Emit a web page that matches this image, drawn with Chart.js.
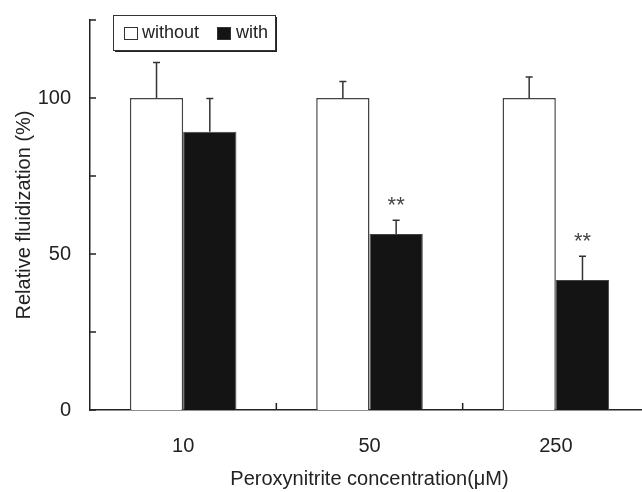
<!DOCTYPE html>
<html>
<head>
<meta charset="utf-8">
<script src="https://cdn.jsdelivr.net/npm/chart.js@4/dist/chart.umd.min.js"></script>
<style>
  html, body { margin: 0; padding: 0; background: #fff; overflow: hidden; }
  #wrap { width: 650px; height: 492px; }
</style>
</head>
<body>
<div id="wrap"><canvas id="fluidChart" width="650" height="492"></canvas></div>
<script>
// values
const categories = ['10', '50', '250'];
const withoutValues = [100, 100, 100];
const withValues = [89.2, 56.4, 41.7];
const withoutErrors = [11.4, 5.3, 6.7];
const withErrors = [10.6, 4.4, 7.6];
const significance = ['', '**', '**'];
const labelledTicks = [0, 50, 100];

const FONT = '"Liberation Sans", Arial, sans-serif';
const INK = '#222';

// error bars above each bar
const errorBars = {
  id: 'errorBars',
  afterDatasetsDraw(chart) {
    const ctx = chart.ctx;
    const y = chart.scales.y;
    const errs = [withoutErrors, withErrors];
    ctx.save();
    ctx.strokeStyle = '#333';
    ctx.lineWidth = 1.5;
    chart.data.datasets.forEach((ds, d) => {
      chart.getDatasetMeta(d).data.forEach((bar, i) => {
        const top = y.getPixelForValue(ds.data[i] + errs[d][i]);
        ctx.beginPath();
        ctx.moveTo(bar.x, bar.y);
        ctx.lineTo(bar.x, top);
        ctx.moveTo(bar.x - 3.5, top);
        ctx.lineTo(bar.x + 3.5, top);
        ctx.stroke();
      });
    });
    // significance marks over the "with" bars
    ctx.fillStyle = '#444';
    ctx.font = '22px ' + FONT;
    ctx.textAlign = 'center';
    ctx.textBaseline = 'middle';
    chart.getDatasetMeta(1).data.forEach((bar, i) => {
      if (!significance[i]) return;
      const top = y.getPixelForValue(withValues[i] + withErrors[i]);
      ctx.fillText(significance[i], bar.x, top - 14);
    });
    ctx.restore();
  }
};

// inward tick marks on both axes
const innerTicks = {
  id: 'innerTicks',
  afterDraw(chart) {
    const ctx = chart.ctx;
    const {left, bottom} = chart.chartArea;
    const x = chart.scales.x, y = chart.scales.y;
    ctx.save();
    ctx.strokeStyle = INK;
    ctx.lineWidth = 1.5;
    ctx.beginPath();
    y.ticks.forEach(t => {
      const py = y.getPixelForValue(t.value);
      ctx.moveTo(left, py);
      ctx.lineTo(left + 6, py);
    });
    for (let i = 0; i < categories.length - 1; i++) {
      const px = (x.getPixelForValue(i) + x.getPixelForValue(i + 1)) / 2;
      ctx.moveTo(px, bottom);
      ctx.lineTo(px, bottom - 7);
    }
    ctx.stroke();
    ctx.restore();
  }
};

// boxed legend with drop shadow
const boxLegend = {
  id: 'boxLegend',
  afterDraw(chart) {
    const ctx = chart.ctx;
    const bx = 113, by = 15, bw = 162, bh = 35;
    ctx.save();
    ctx.fillStyle = '#222';
    ctx.fillRect(bx + 2, by + 2, bw, bh);
    ctx.fillStyle = '#fff';
    ctx.fillRect(bx, by, bw, bh);
    ctx.strokeStyle = '#333';
    ctx.lineWidth = 1;
    ctx.strokeRect(bx + 0.5, by + 0.5, bw, bh);
    ctx.font = '18px ' + FONT;
    ctx.textBaseline = 'middle';
    ctx.textAlign = 'left';
    const items = [[124, 142], [217, 236]];
    chart.data.datasets.forEach((ds, d) => {
      const [sx, tx] = items[d];
      ctx.fillStyle = ds.backgroundColor;
      ctx.fillRect(sx, 27, 13, 13);
      ctx.strokeStyle = '#333';
      ctx.strokeRect(sx + 0.5, 27.5, 13, 12);
      ctx.fillStyle = INK;
      ctx.fillText(ds.label, tx, 33.5);
    });
    ctx.restore();
  }
};

new Chart(document.getElementById('fluidChart'), {
  type: 'bar',
  data: {
    labels: categories,
    datasets: [
      {
        label: 'without',
        data: withoutValues,
        backgroundColor: '#ffffff',
        borderColor: '#444',
        borderWidth: 1.5,
        categoryPercentage: 0.572,
        barPercentage: 1.0
      },
      {
        label: 'with',
        data: withValues,
        backgroundColor: '#141414',
        borderColor: '#444',
        borderWidth: 1,
        categoryPercentage: 0.572,
        barPercentage: 1.0
      }
    ]
  },
  options: {
    responsive: false,
    animation: false,
    devicePixelRatio: 1,
    layout: { padding: { top: 20, right: 1, left: 0, bottom: 0 } },
    plugins: {
      legend: { display: false },
      tooltip: { enabled: false }
    },
    scales: {
      x: {
        grid: { display: false, drawTicks: false },
        border: { display: true, color: INK, width: 1.5 },
        ticks: { color: INK, font: { family: FONT, size: 20 }, padding: 24 },
        title: {
          display: true,
          text: 'Peroxynitrite concentration(\u03bcM)',
          color: INK,
          font: { family: FONT, size: 20 },
          padding: { top: 2, bottom: 1 }
        },
        afterFit(scale) {
          scale.height = 82;
          scale.paddingLeft = 0;
          scale.paddingRight = 0;
        }
      },
      y: {
        min: 0,
        max: 125,
        grid: { display: false, drawTicks: false },
        border: { display: true, color: INK, width: 1.5 },
        ticks: {
          stepSize: 25,
          color: INK,
          font: { family: FONT, size: 20 },
          padding: 19,
          callback: v => labelledTicks.includes(v) ? v : ''
        },
        title: {
          display: true,
          text: 'Relative fluidization (%)',
          color: INK,
          font: { family: FONT, size: 20 },
          padding: { top: 12, bottom: 0 }
        },
        afterFit(scale) {
          scale.width = 90;
          scale.paddingTop = 0;
          scale.paddingBottom = 0;
        }
      }
    }
  },
  plugins: [errorBars, innerTicks, boxLegend]
});
</script>
</body>
</html>
